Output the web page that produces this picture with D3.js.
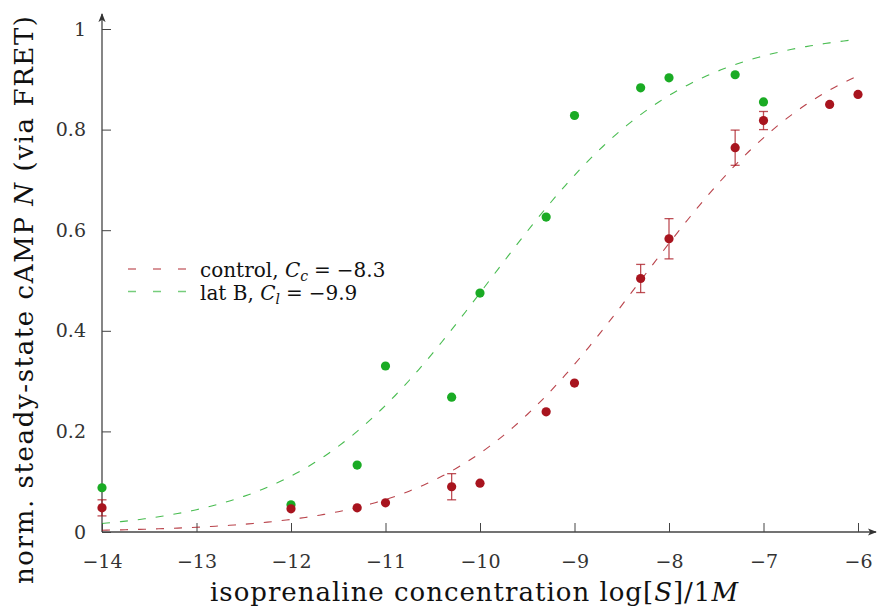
<!DOCTYPE html>
<html lang="en">
<head>
<meta charset="UTF-8">
<script src="https://cdn.jsdelivr.net/npm/d3@7"></script>
<title>cAMP dose response</title>
<style>
    body { margin: 0; background: white; }
    svg { font-family: "DejaVu Serif", serif; }
    .axis path, .axis line { stroke: #444; }
    .axis text { fill: #333; }
</style>
</head>
<body>
<div id="chart"></div>
<script>
    // control (red) measurements: log concentration, normalised cAMP, error
    const controlX = [-14, -12, -11.3, -11, -10.3, -10, -9.3, -9, -8.3, -8, -7.3, -7, -6.3, -6];
    const controlY = [0.048, 0.046, 0.048, 0.058, 0.090, 0.097, 0.239, 0.296, 0.504, 0.583, 0.764, 0.818, 0.850, 0.870];
    const controlErr = [0.016, 0, 0, 0, 0.026, 0, 0, 0, 0.028, 0.040, 0.035, 0.018, 0, 0];

    // lat B (green) measurements
    const latX = [-14, -12, -11.3, -11, -10.3, -10, -9.3, -9, -8.3, -8, -7.3, -7];
    const latY = [0.088, 0.054, 0.133, 0.330, 0.268, 0.475, 0.626, 0.828, 0.883, 0.903, 0.909, 0.855];

    // fitted half-max positions (from legend) and slope of the fit
    const fitC = { control: -8.3, lat: -9.9 };
    const hillSlope = 0.43;

    const xTicks = [-14, -13, -12, -11, -10, -9, -8, -7, -6];
    const yTicks = [0, 0.2, 0.4, 0.6, 0.8, 1];

    const red = "#a8141e";
    const green = "#1aab24";
    const serif = "DejaVu Serif, serif";

    const width = 877, height = 612;
    const svg = d3.select("#chart").append("svg")
        .attr("width", width)
        .attr("height", height);

    const x = d3.scaleLinear().domain([-14, -6]).range([102, 858]);
    const y = d3.scaleLinear().domain([0, 1]).range([532, 29]);

    // axes, ticks pointing inward
    const xAxis = d3.axisBottom(x).tickValues(xTicks).tickSize(-9).tickPadding(23)
        .tickFormat(d => d3.format("d")(d));
    const yAxis = d3.axisLeft(y).tickValues(yTicks).tickSize(-9).tickPadding(16)
        .tickFormat(d => d === 0 || d === 1 ? String(d) : d3.format(".1f")(d));

    const gx = svg.append("g").attr("class", "axis").attr("transform", `translate(0,${y(0)})`).call(xAxis)
        .attr("font-family", serif).attr("font-size", 19);
    const gy = svg.append("g").attr("class", "axis").attr("transform", `translate(${x(-14)},0)`).call(yAxis)
        .attr("font-family", serif).attr("font-size", 19);
    gx.select(".domain").remove();
    gy.select(".domain").remove();
    gx.selectAll(".tick text").attr("dy", "0.71em");

    svg.append("defs").append("marker")
        .attr("id", "arrow")
        .attr("viewBox", "0 0 10 10")
        .attr("refX", 9).attr("refY", 5)
        .attr("markerWidth", 9).attr("markerHeight", 9)
        .attr("markerUnits", "userSpaceOnUse")
        .attr("orient", "auto")
        .append("path").attr("d", "M0,1 L10,5 L0,9 L2.5,5 Z").attr("fill", "#333");

    svg.append("line")
        .attr("x1", x(-14)).attr("y1", y(0)).attr("x2", 876).attr("y2", y(0))
        .attr("stroke", "#444").attr("stroke-width", 1.3).attr("marker-end", "url(#arrow)");
    svg.append("line")
        .attr("x1", x(-14)).attr("y1", y(0)).attr("x2", x(-14)).attr("y2", 14)
        .attr("stroke", "#444").attr("stroke-width", 1.3).attr("marker-end", "url(#arrow)");

    // fit curves
    const hill = c => t => 1 / (1 + Math.pow(10, hillSlope * (c - t)));
    const grid = d3.range(-14, -6.0001, 0.05).concat([-6]);
    const line = d3.line().x(d => x(d[0])).y(d => y(d[1]));

    [[fitC.lat, green], [fitC.control, red]].forEach(([c, col]) => {
        const f = hill(c);
        svg.append("path")
            .attr("d", line(grid.map(t => [t, f(t)])))
            .attr("fill", "none")
            .attr("stroke", col)
            .attr("stroke-opacity", 0.8)
            .attr("stroke-width", 1.1)
            .attr("stroke-dasharray", "8,10");
    });

    // error bars (control)
    const errs = controlX.map((d, i) => ({ x: d, y: controlY[i], e: controlErr[i] })).filter(d => d.e > 0);
    const eb = svg.append("g").attr("stroke", red).attr("stroke-opacity", 0.75).attr("stroke-width", 1.3);
    errs.forEach(d => {
        eb.append("line").attr("x1", x(d.x)).attr("x2", x(d.x)).attr("y1", y(d.y - d.e)).attr("y2", y(d.y + d.e));
        [d.y - d.e, d.y + d.e].forEach(v => {
            eb.append("line").attr("x1", x(d.x) - 4.5).attr("x2", x(d.x) + 4.5).attr("y1", y(v)).attr("y2", y(v));
        });
    });

    // points
    svg.append("g").selectAll("circle")
        .data(latX.map((d, i) => [d, latY[i]]))
        .join("circle")
        .attr("cx", d => x(d[0])).attr("cy", d => y(d[1])).attr("r", 4.6).attr("fill", green);
    svg.append("g").selectAll("circle")
        .data(controlX.map((d, i) => [d, controlY[i]]))
        .join("circle")
        .attr("cx", d => x(d[0])).attr("cy", d => y(d[1])).attr("r", 4.6).attr("fill", red);

    // legend
    const legend = [
        { name: "control, ", sub: "c", val: fitC.control, col: red },
        { name: "lat B, ", sub: "l", val: fitC.lat, col: green }
    ];
    legend.forEach((d, i) => {
        const ly = 269 + i * 22.5;
        svg.append("line")
            .attr("x1", 128).attr("x2", 188).attr("y1", ly).attr("y2", ly)
            .attr("stroke", d.col).attr("stroke-opacity", 0.6).attr("stroke-width", 1.3)
            .attr("stroke-dasharray", "8,17");
        const t = svg.append("text").attr("x", 200).attr("y", ly + 8)
            .attr("font-size", 20).attr("fill", "#111");
        t.append("tspan").text(d.name);
        t.append("tspan").attr("font-style", "italic").text("C");
        t.append("tspan").attr("font-style", "italic").attr("font-size", 14).attr("dy", 4).text(d.sub);
        t.append("tspan").attr("dy", -4).attr("dx", 6).text("=");
        t.append("tspan").attr("dx", 6).text(d3.format(".1f")(d.val));
    });

    // axis titles
    const xl = svg.append("text").attr("x", 474).attr("y", 601)
        .attr("text-anchor", "middle").attr("font-size", 26).attr("fill", "#111")
        .attr("textLength", 528).attr("lengthAdjust", "spacing");
    xl.append("tspan").text("isoprenaline concentration log[");
    xl.append("tspan").attr("font-style", "italic").text("S");
    xl.append("tspan").text("]/1");
    xl.append("tspan").attr("font-style", "italic").text("M");

    const yl = svg.append("text")
        .attr("transform", "translate(33,300) rotate(-90)")
        .attr("text-anchor", "middle").attr("font-size", 26).attr("fill", "#111")
        .attr("textLength", 568).attr("lengthAdjust", "spacing");
    yl.append("tspan").text("norm. steady-state cAMP ");
    yl.append("tspan").attr("font-style", "italic").text("N");
    yl.append("tspan").text(" (via FRET)");
</script>
</body>
</html>
